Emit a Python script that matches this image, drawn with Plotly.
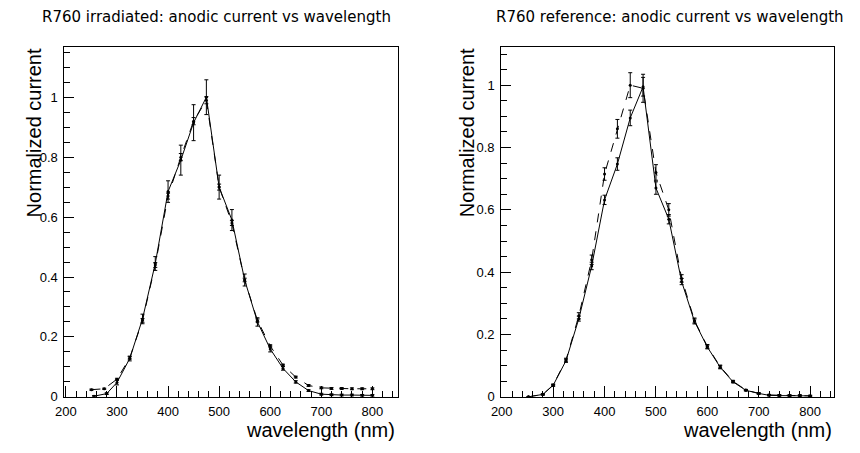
import plotly.graph_objects as go

# ---------------- data ----------------
wl_irr_solid = [255, 280, 300, 325, 350, 375, 400, 425, 450, 475, 500, 525, 550, 575, 600, 625, 650, 675, 700, 720, 740, 760, 780, 800]
cur_irr_solid = [0.002, 0.011, 0.048, 0.128, 0.26, 0.445, 0.685, 0.79, 0.915, 1.0, 0.70, 0.59, 0.39, 0.25, 0.16, 0.095, 0.05, 0.021, 0.009, 0.007, 0.006, 0.006, 0.005, 0.005]
err_irr_solid = [0.002, 0.003, 0.008, 0.008, 0.016, 0.023, 0.036, 0.05, 0.06, 0.058, 0.04, 0.035, 0.02, 0.014, 0.01, 0.006, 0.004, 0.003, 0.003, 0.003, 0.003, 0.003, 0.003, 0.003]

wl_irr_dash = [250, 275, 300, 325, 350, 375, 400, 425, 450, 475, 500, 525, 550, 575, 600, 625, 650, 675, 700, 720, 740, 760, 780, 800]
cur_irr_dash = [0.024, 0.027, 0.059, 0.13, 0.255, 0.44, 0.67, 0.80, 0.92, 0.99, 0.70, 0.58, 0.39, 0.255, 0.17, 0.106, 0.066, 0.038, 0.03, 0.028, 0.028, 0.027, 0.027, 0.027]
err_irr_dash = [0.002, 0.002, 0.003, 0.004, 0.006, 0.008, 0.01, 0.012, 0.012, 0.012, 0.01, 0.008, 0.006, 0.005, 0.004, 0.003, 0.003, 0.003, 0.003, 0.003, 0.003, 0.003, 0.003, 0.003]

wl_ref_solid = [252, 280, 300, 325, 350, 375, 400, 425, 450, 475, 500, 525, 550, 575, 600, 625, 650, 675, 700, 720, 740, 760, 780, 800]
cur_ref_solid = [0.0, 0.008, 0.037, 0.116, 0.251, 0.42, 0.632, 0.747, 0.895, 0.995, 0.67, 0.57, 0.37, 0.242, 0.16, 0.095, 0.048, 0.021, 0.011, 0.005, 0.004, 0.004, 0.004, 0.003]
err_ref_solid = [0.001, 0.002, 0.003, 0.005, 0.008, 0.012, 0.015, 0.02, 0.025, 0.03, 0.02, 0.015, 0.01, 0.008, 0.006, 0.005, 0.003, 0.002, 0.002, 0.002, 0.002, 0.002, 0.002, 0.002]

wl_ref_dash = [252, 280, 300, 325, 350, 375, 400, 425, 450, 475, 500, 525, 550, 575, 600, 625, 650, 675, 700, 720, 740, 760, 780, 800]
cur_ref_dash = [0.0, 0.008, 0.038, 0.118, 0.26, 0.44, 0.715, 0.86, 1.0, 0.99, 0.72, 0.60, 0.38, 0.245, 0.162, 0.097, 0.05, 0.022, 0.011, 0.006, 0.005, 0.004, 0.004, 0.003]
err_ref_dash = [0.001, 0.002, 0.003, 0.006, 0.01, 0.015, 0.02, 0.03, 0.04, 0.045, 0.025, 0.02, 0.012, 0.008, 0.006, 0.005, 0.003, 0.002, 0.002, 0.002, 0.002, 0.002, 0.002, 0.002]

titles = ["R760 irradiated: anodic current vs wavelength", "R760 reference: anodic current vs wavelength"]
y_title = "Normalized current"
x_title = "wavelength (nm)"

W, H = 860, 453

fig = go.Figure()

def add_curve(x, y, e, dash, xa, ya):
    fig.add_trace(go.Scatter(
        x=x, y=y, mode="lines+markers", xaxis=xa, yaxis=ya,
        line=dict(color="black", width=1, dash=dash),
        marker=dict(color="black", size=3),
        error_y=dict(type="data", array=e, visible=True, color="black", thickness=1, width=2),
        showlegend=False, hoverinfo="x+y"))

add_curve(wl_irr_dash, cur_irr_dash, err_irr_dash, "dash", "x", "y")
add_curve(wl_irr_solid, cur_irr_solid, err_irr_solid, "solid", "x", "y")
add_curve(wl_ref_dash, cur_ref_dash, err_ref_dash, "dash", "x2", "y2")
add_curve(wl_ref_solid, cur_ref_solid, err_ref_solid, "solid", "x2", "y2")

tickfont = dict(family="Liberation Sans, Arial, sans-serif", size=13, color="black")

def xax(domain, rng, anchor):
    return dict(domain=domain, range=rng, anchor=anchor, showline=True, linecolor="black", linewidth=1,
                mirror=True, ticks="inside", ticklen=11, tickcolor="black", tickwidth=1,
                dtick=100, tick0=0, showgrid=False, zeroline=False, tickfont=tickfont, ticklabelstandoff=3,
                minor=dict(ticks="inside", ticklen=6, dtick=20, tick0=0, tickcolor="black", showgrid=False))

def yax(domain, rng, anchor):
    return dict(domain=domain, range=rng, anchor=anchor, showline=True, linecolor="black", linewidth=1,
                mirror=True, ticks="inside", ticklen=10, tickcolor="black", tickwidth=1,
                dtick=0.2, tick0=0, showgrid=False, zeroline=False, tickfont=tickfont, ticklabelstandoff=3,
                minor=dict(ticks="inside", ticklen=6, dtick=0.05, tick0=0, tickcolor="black", showgrid=False))

ydom = [(H - 404) / H, (H - 48) / H]

annotations = []
for i, (cx, yx, xr) in enumerate([(209, 24, 392), (667.5, 462, 834)]):
    annotations.append(dict(text=titles[i], x=cx / W, y=1 - 17 / H, xref="paper", yref="paper",
                            xanchor="center", yanchor="middle", showarrow=False,
                            font=dict(family="DejaVu Sans", size=15, color="black")))
    annotations.append(dict(text=y_title, x=yx / W, y=(H - 47) / H, xref="paper", yref="paper",
                            xanchor="center", yanchor="top", textangle=-90, showarrow=False,
                            font=dict(family="Liberation Sans, Arial, sans-serif", size=20, color="black")))
    annotations.append(dict(text=x_title, x=xr / W, y=(H - 438) / H, xref="paper", yref="paper",
                            xanchor="right", yanchor="middle", showarrow=False,
                            font=dict(family="Liberation Sans, Arial, sans-serif", size=20, color="black")))

fig.update_layout(
    width=W, height=H, margin=dict(l=0, r=0, t=0, b=0),
    paper_bgcolor="white", plot_bgcolor="white",
    xaxis=xax([55 / W, 393 / W], [197, 851], "y"),
    yaxis=yax(ydom, [0, 1.167], "x"),
    xaxis2=xax([497 / W, 834 / W], [199, 847], "y2"),
    yaxis2=yax(ydom, [0, 1.122], "x2"),
    annotations=annotations,
)

fig.write_html("out.html")
